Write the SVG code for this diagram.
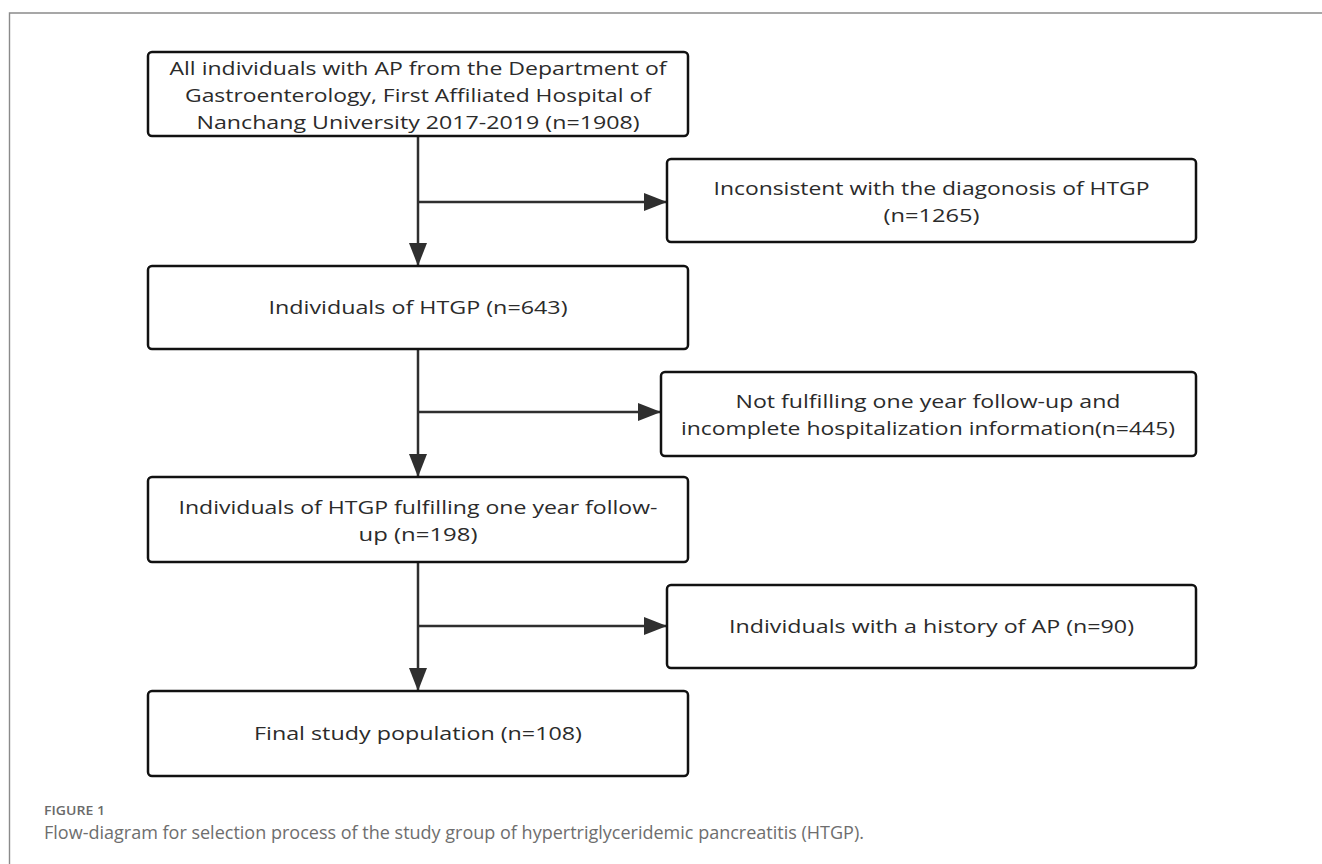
<svg xmlns="http://www.w3.org/2000/svg" width="1322" height="864" viewBox="0 0 1322 864">
  <style>
    .box { fill: #ffffff; stroke: #111111; stroke-width: 2.5; }
    .t { font-family: "Open Sans", "Liberation Sans", sans-serif; font-size: 19px; fill: #2b2b2b; text-anchor: middle; }
    .conn { fill: none; stroke: #2f2f2f; stroke-width: 2.5; }
    .frame { fill: none; stroke: #8a8a8a; stroke-width: 1.4; }
    .figlabel { font-family: "Open Sans", "Liberation Sans", sans-serif; font-size: 13px; font-weight: 600; fill: #6a6a6a; }
    .caption { font-family: "Open Sans", "Liberation Sans", sans-serif; font-size: 18px; fill: #6e6e6e; }
  </style>
  <defs>
    <marker id="arrow" markerUnits="userSpaceOnUse" markerWidth="23" markerHeight="18" refX="23" refY="9" orient="auto">
      <path d="M0,0 L23,9 L0,18 Z" fill="#2f2f2f"/>
    </marker>
  </defs>

  <rect width="1322" height="864" fill="#ffffff"/>
  <path class="frame" d="M9.5,864 V13 H1322"/>

  <g id="connectors">
    <path class="conn" d="M418,136 V266" marker-end="url(#arrow)"/>
    <path class="conn" d="M418,202 H667" marker-end="url(#arrow)"/>
    <path class="conn" d="M418,349 V477" marker-end="url(#arrow)"/>
    <path class="conn" d="M418,412 H661" marker-end="url(#arrow)"/>
    <path class="conn" d="M418,562 V691" marker-end="url(#arrow)"/>
    <path class="conn" d="M418,626 H667" marker-end="url(#arrow)"/>
  </g>

  <g id="node-all">
    <rect class="box" x="148" y="52" width="540" height="84" rx="4"/>
    <text class="t" x="418" y="75" textLength="497" lengthAdjust="spacingAndGlyphs">All individuals with AP from the Department of</text>
    <text class="t" x="418" y="102" textLength="466" lengthAdjust="spacingAndGlyphs">Gastroenterology, First Affiliated Hospital of</text>
    <text class="t" x="418" y="129" textLength="443" lengthAdjust="spacingAndGlyphs">Nanchang University 2017-2019 (n=1908)</text>
  </g>

  <g id="node-inconsistent">
    <rect class="box" x="667" y="159" width="529" height="83" rx="4"/>
    <text class="t" x="931.5" y="195" textLength="436" lengthAdjust="spacingAndGlyphs">Inconsistent with the diagonosis of HTGP</text>
    <text class="t" x="931.5" y="222" textLength="96" lengthAdjust="spacingAndGlyphs">(n=1265)</text>
  </g>

  <g id="node-htgp">
    <rect class="box" x="148" y="266" width="540" height="83" rx="4"/>
    <text class="t" x="418" y="314" textLength="299" lengthAdjust="spacingAndGlyphs">Individuals of HTGP (n=643)</text>
  </g>

  <g id="node-not-fulfilling">
    <rect class="box" x="661" y="372" width="535" height="84" rx="4"/>
    <text class="t" x="928" y="408" textLength="385" lengthAdjust="spacingAndGlyphs">Not fulfilling one year follow-up and</text>
    <text class="t" x="928" y="435" textLength="494" lengthAdjust="spacingAndGlyphs">incomplete hospitalization information(n=445)</text>
  </g>

  <g id="node-fulfilling">
    <rect class="box" x="148" y="477" width="540" height="85" rx="4"/>
    <text class="t" x="418" y="514" textLength="479" lengthAdjust="spacingAndGlyphs">Individuals of HTGP fulfilling one year follow-</text>
    <text class="t" x="418" y="541" textLength="119" lengthAdjust="spacingAndGlyphs">up (n=198)</text>
  </g>

  <g id="node-history">
    <rect class="box" x="667" y="585" width="529" height="83" rx="4"/>
    <text class="t" x="931.5" y="633" textLength="405" lengthAdjust="spacingAndGlyphs">Individuals with a history of AP (n=90)</text>
  </g>

  <g id="node-final">
    <rect class="box" x="148" y="691" width="540" height="85" rx="4"/>
    <text class="t" x="418" y="740" textLength="328" lengthAdjust="spacingAndGlyphs">Final study population (n=108)</text>
  </g>

  <g id="caption">
    <text class="figlabel" x="44" y="815" textLength="61" lengthAdjust="spacingAndGlyphs">FIGURE 1</text>
    <text class="caption" x="44" y="839" textLength="820" lengthAdjust="spacingAndGlyphs">Flow-diagram for selection process of the study group of hypertriglyceridemic pancreatitis (HTGP).</text>
  </g>
</svg>
